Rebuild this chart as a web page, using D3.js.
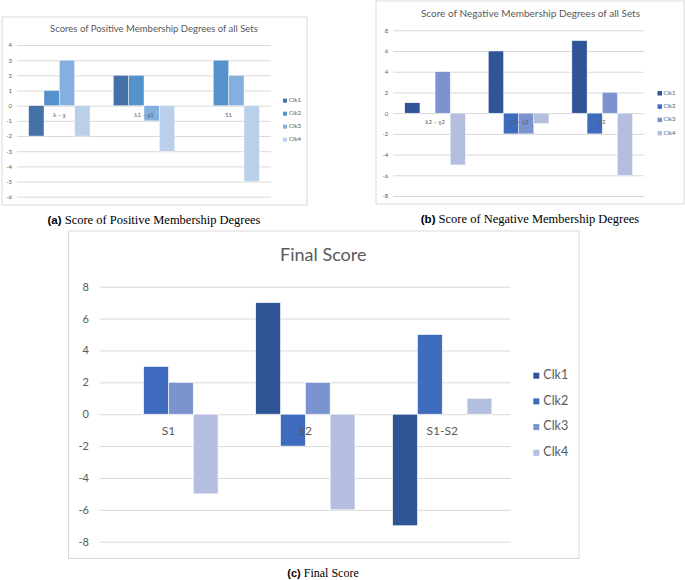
<!DOCTYPE html>
<html>
<head>
<meta charset="utf-8">
<script src="https://cdn.jsdelivr.net/npm/d3@7"></script>
<style>
  html, body { margin: 0; padding: 0; background: #fff; }
  svg { display: block; }
</style>
</head>
<body>
<svg id="chart" width="685" height="580"></svg>
<script>
// ---------------- DATA ----------------
const seriesNames = ["Clk1", "Clk2", "Clk3", "Clk4"];

// (a) Scores of Positive Membership Degrees of all Sets
const catsA = ["λ – χ", "λ1 – χ1", "S1"];
const valuesA = [
  [-2, 1, 3, -2],
  [2, 2, -1, -3],
  [0, 3, 2, -5]
];
const ticksA = [4, 3, 2, 1, 0, -1, -2, -3, -4, -5, -6];

// (b) Score of Negative Membership Degrees of all Sets
const catsB = ["λ2 – χ2", "λ3 – χ3", "S2"];
const valuesB = [
  [1, 0, 4, -5],
  [6, -2, -2, -1],
  [7, -2, 2, -6]
];
const ticksB = [8, 6, 4, 2, 0, -2, -4, -6, -8];

// (c) Final Score
const catsC = ["S1", "S2", "S1-S2"];
const valuesC = [
  [0, 3, 2, -5],
  [7, -2, 2, -6],
  [-7, 5, 0, 1]
];
const ticksC = [8, 6, 4, 2, 0, -2, -4, -6, -8];

// ---------------- DRAW ----------------
const svg = d3.select("#chart");
const FONT = "Lato, 'Open Sans', sans-serif";

function drawPanel(o) {
  const g = svg.append("g");
  g.append("rect")
    .attr("x", o.box[0]).attr("y", o.box[1])
    .attr("width", o.box[2] - o.box[0]).attr("height", o.box[3] - o.box[1])
    .attr("fill", "#fff").attr("stroke", "#d9d9d9").attr("stroke-width", 1);

  const y = d3.scaleLinear()
    .domain([d3.min(o.ticks), d3.max(o.ticks)])
    .range([o.yBottom, o.yTop]);
  const x0 = d3.scaleBand().domain(o.cats).range([o.x0, o.x1])
    .paddingInner(0.275).paddingOuter(0.1375);
  const x1 = d3.scaleBand().domain(seriesNames).range([0, x0.bandwidth()]).padding(0);
  const color = d3.scaleOrdinal().domain(seriesNames).range(o.colors);

  const axis = d3.axisLeft(y).tickValues(o.ticks).tickSize(-(o.x1 - o.x0))
    .tickPadding(o.tickPad).tickFormat(d => String(d));
  const ag = g.append("g").attr("transform", `translate(${o.x0},0)`).call(axis);
  ag.select(".domain").remove();
  ag.selectAll(".tick line").attr("stroke", "#d9d9d9").attr("stroke-width", 1);
  ag.selectAll(".tick text").attr("fill", "#595959")
    .style("font-family", FONT).style("font-size", o.tickFont + "px");

  const groups = g.append("g").selectAll("g").data(o.values).join("g")
    .attr("transform", (d, i) => `translate(${x0(o.cats[i])},0)`);
  groups.selectAll("rect").data(d => d.map((v, j) => ({ v, s: seriesNames[j] })))
    .join("rect")
    .attr("x", d => x1(d.s))
    .attr("width", x1.bandwidth())
    .attr("y", d => y(Math.max(0, d.v)))
    .attr("height", d => Math.abs(y(d.v) - y(0)))
    .attr("fill", d => color(d.s))
    .attr("stroke", "#fff").attr("stroke-width", o.barStroke)
    .style("display", d => d.v === 0 ? "none" : null);

  g.append("g").selectAll("text").data(o.cats).join("text")
    .attr("x", d => x0(d) + x0.bandwidth() / 2)
    .attr("y", y(0) + o.catDy)
    .attr("text-anchor", "middle").attr("dominant-baseline", "middle")
    .attr("fill", "#595959")
    .style("font-family", FONT).style("font-size", o.catFont + "px")
    .text(d => d);

  g.append("text")
    .attr("x", o.titleX).attr("y", o.titleY)
    .attr("text-anchor", "middle").attr("dominant-baseline", "middle")
    .attr("fill", "#595959")
    .style("font-family", FONT).style("font-size", o.titleFont + "px")
    .text(o.title);

  const lg = g.append("g").selectAll("g").data(seriesNames).join("g")
    .attr("transform", (d, i) => `translate(${o.legX},${o.legY + i * o.legStep})`);
  lg.append("rect")
    .attr("x", 0).attr("y", -o.legSq / 2)
    .attr("width", o.legSq).attr("height", o.legSq)
    .attr("fill", d => color(d));
  lg.append("text")
    .attr("x", o.legSq + o.legGap).attr("y", 0)
    .attr("dominant-baseline", "middle")
    .attr("fill", "#595959")
    .style("font-family", FONT).style("font-size", o.legFont + "px")
    .text(d => d);

  const cap = svg.append("text")
    .attr("x", o.capX).attr("y", o.capY)
    .attr("text-anchor", "middle").attr("dominant-baseline", "middle")
    .attr("fill", "#000")
    .attr("font-family", "'Liberation Serif', 'DejaVu Serif', serif");
  cap.append("tspan")
    .attr("font-family", "'Liberation Sans', Arial, sans-serif")
    .attr("font-weight", "bold").attr("font-size", o.capFont)
    .text(o.capLabel);
  cap.append("tspan")
    .attr("font-family", "'Liberation Serif', 'DejaVu Serif', serif")
    .attr("font-size", o.capFont + 1)
    .text(" " + o.capText);
}

drawPanel({
  box: [2, 17, 307, 205],
  cats: catsA, values: valuesA, ticks: ticksA,
  x0: 17, x1: 271, yTop: 45, yBottom: 196.7,
  colors: ["#4472a6", "#5592cc", "#85b0de", "#bacfea"],
  tickPad: 5, tickFont: 6, catFont: 6, catDy: 9.5, barStroke: 0.4,
  title: "Scores of Positive Membership Degrees of all Sets",
  titleX: 154, titleY: 29.5, titleFont: 9.5,
  legX: 283, legY: 100.7, legStep: 13, legSq: 4, legGap: 2, legFont: 6,
  capX: 154, capY: 221, capFont: 11.5, capLabel: "(a)",
  capText: "Score of Positive Membership Degrees"
});

drawPanel({
  box: [376, 1, 684, 204],
  cats: catsB, values: valuesB, ticks: ticksB,
  x0: 393.3, x1: 644, yTop: 30.3, yBottom: 196,
  colors: ["#2f5597", "#3e6bbd", "#7b94d0", "#b4bfe0"],
  tickPad: 5, tickFont: 6, catFont: 6, catDy: 9.4, barStroke: 0.4,
  title: "Score of Negative Membership Degrees of all Sets",
  titleX: 530.5, titleY: 14.7, titleFont: 10,
  legX: 657.5, legY: 93.3, legStep: 13.3, legSq: 4.5, legGap: 1.5, legFont: 6,
  capX: 530, capY: 220, capFont: 11.5, capLabel: "(b)",
  capText: "Score of Negative Membership Degrees"
});

drawPanel({
  box: [68.5, 231, 579, 558.5],
  cats: catsC, values: valuesC, ticks: ticksC,
  x0: 100, x1: 510.7, yTop: 286.7, yBottom: 541.7,
  colors: ["#2f5597", "#3e6bbd", "#7b94d0", "#b4bfe0"],
  tickPad: 11, tickFont: 11, catFont: 12, catDy: 17.7, barStroke: 0.6,
  title: "Final Score",
  titleX: 323.3, titleY: 256.5, titleFont: 18,
  legX: 533.3, legY: 375.7, legStep: 25.7, legSq: 6, legGap: 4, legFont: 12.5,
  capX: 323, capY: 573.5, capFont: 11, capLabel: "(c)",
  capText: "Final Score"
});
</script>
</body>
</html>
